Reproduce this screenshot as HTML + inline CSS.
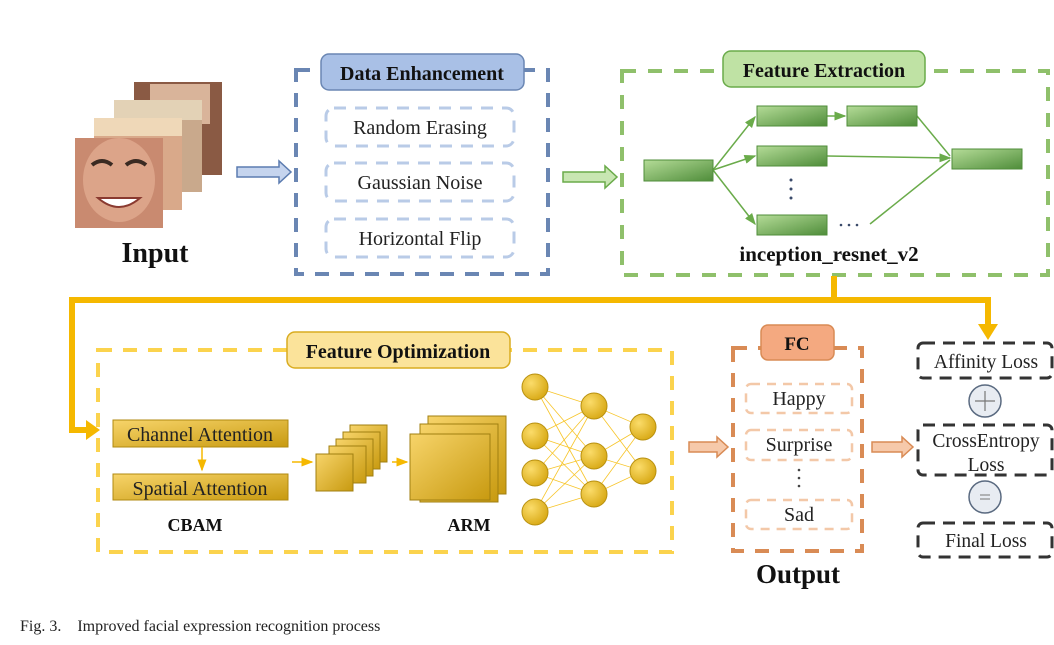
<!DOCTYPE html>
<html><head><meta charset="utf-8"><style>
body{margin:0;background:#fff;}
svg{display:block;font-family:"Liberation Serif",serif;}
</style></head><body>
<svg width="1054" height="645" viewBox="0 0 1054 645" xmlns="http://www.w3.org/2000/svg">
<defs>
<linearGradient id="gg" x1="0" y1="0" x2="1" y2="1"><stop offset="0" stop-color="#b5dc98"/><stop offset="1" stop-color="#4f8d3a"/></linearGradient>
<linearGradient id="yg" x1="0" y1="0" x2="1" y2="1"><stop offset="0" stop-color="#f7d46a"/><stop offset="1" stop-color="#c89a10"/></linearGradient>
<radialGradient id="cg" cx="0.35" cy="0.35" r="0.7"><stop offset="0" stop-color="#fbdc6a"/><stop offset="1" stop-color="#d8a915"/></radialGradient>
<marker id="ga" markerWidth="8" markerHeight="8" refX="7" refY="4" orient="auto"><path d="M0,1 L8,4 L0,7z" fill="#6aab4a"/></marker>
<marker id="ya" markerWidth="8" markerHeight="8" refX="7" refY="4" orient="auto"><path d="M0,1 L8,4 L0,7z" fill="#f5b800"/></marker>
</defs>

<!-- faces -->
<rect x="134" y="82" width="88" height="93" fill="#8a5a44"/><rect x="150" y="84" width="60" height="40" fill="#d9b49a"/>
<rect x="114" y="100" width="88" height="92" fill="#c9a98c"/><rect x="114" y="100" width="88" height="20" fill="#e3d2b6"/>
<rect x="94" y="118" width="88" height="92" fill="#d9a98a"/><rect x="94" y="118" width="88" height="18" fill="#efd8b8"/>
<rect x="75" y="138" width="88" height="90" fill="#c98a70"/>
<ellipse cx="119" cy="180" rx="36" ry="42" fill="#dca489"/>
<path d="M92 165 q10-8 20 0 M126 165 q10-8 20 0" stroke="#3a2a22" stroke-width="4" fill="none"/>
<path d="M98 198 q21 18 42 0 z" fill="#fff" stroke="#8a3a30" stroke-width="2"/>
<text x="155" y="262" font-size="28" font-weight="bold" text-anchor="middle" fill="#111">Input</text>

<!-- blue arrow -->
<path d="M237 167 h42 v-6 l12 11 l-12 11 v-6 h-42z" fill="#c5d4ee" stroke="#5c7cb0" stroke-width="1.5"/>

<!-- data enhancement -->
<rect x="296" y="70" width="252" height="204" fill="none" stroke="#6a86b3" stroke-width="4" stroke-dasharray="14 11"/>
<rect x="321" y="54" width="203" height="36" rx="8" fill="#a9c0e6" stroke="#6a86b3" stroke-width="1.5"/>
<text x="422" y="80" font-size="20" font-weight="bold" text-anchor="middle" fill="#111">Data Enhancement</text>
<g fill="none" stroke="#b9cbe7" stroke-width="3" stroke-dasharray="12 9">
<rect x="326" y="108" width="188" height="38" rx="8"/>
<rect x="326" y="163" width="188" height="38" rx="8"/>
<rect x="326" y="219" width="188" height="38" rx="8"/>
</g>
<g font-size="20" text-anchor="middle" fill="#222">
<text x="420" y="134">Random Erasing</text>
<text x="420" y="189">Gaussian Noise</text>
<text x="420" y="245">Horizontal Flip</text>
</g>

<!-- green arrow -->
<path d="M563 172 h42 v-6 l12 11 l-12 11 v-6 h-42z" fill="#c8e6b2" stroke="#6aab4a" stroke-width="1.5"/>

<!-- feature extraction -->
<rect x="622" y="71" width="426" height="204" fill="none" stroke="#8fc06b" stroke-width="4" stroke-dasharray="14 12"/>
<rect x="723" y="51" width="202" height="36" rx="8" fill="#bfe2a4" stroke="#6aab4a" stroke-width="1.5"/>
<text x="824" y="77" font-size="20" font-weight="bold" text-anchor="middle" fill="#111">Feature Extraction</text>
<g stroke="#6aab4a" stroke-width="1.5" fill="none">
<line x1="713" y1="170" x2="755" y2="117" marker-end="url(#ga)"/>
<line x1="713" y1="170" x2="755" y2="156" marker-end="url(#ga)"/>
<line x1="713" y1="170" x2="755" y2="224" marker-end="url(#ga)"/>
<line x1="827" y1="116" x2="845" y2="116" marker-end="url(#ga)"/>
<line x1="917" y1="116" x2="950" y2="156"/>
<line x1="827" y1="156" x2="950" y2="158" marker-end="url(#ga)"/>
<line x1="870" y1="224" x2="950" y2="160"/>
</g>
<g fill="url(#gg)" stroke="#4f8d3a" stroke-width="1">
<rect x="644" y="160" width="69" height="21"/>
<rect x="757" y="106" width="70" height="20"/>
<rect x="847" y="106" width="70" height="20"/>
<rect x="757" y="146" width="70" height="20"/>
<rect x="757" y="215" width="70" height="20"/>
<rect x="952" y="149" width="70" height="20"/>
</g>
<g fill="#3a4a6a"><circle cx="791" cy="180" r="1.5"/><circle cx="791" cy="189" r="1.5"/><circle cx="791" cy="198" r="1.5"/>
<circle cx="841" cy="225" r="1.3"/><circle cx="849" cy="225" r="1.3"/><circle cx="857" cy="225" r="1.3"/></g>
<text x="829" y="261" font-size="21" font-weight="bold" text-anchor="middle" fill="#111">inception_resnet_v2</text>

<!-- yellow connector -->
<path d="M834 276 V300 H72 V430 H88" fill="none" stroke="#f5b800" stroke-width="6"/>
<path d="M86 420 L100 430 L86 440z" fill="#f5b800"/>
<path d="M834 300 H988 V326" fill="none" stroke="#f5b800" stroke-width="6"/>
<path d="M978 324 L988 340 L998 324z" fill="#f5b800"/>

<!-- feature optimization -->
<rect x="98" y="350" width="574" height="202" fill="none" stroke="#fbd34d" stroke-width="4" stroke-dasharray="14 11"/>
<rect x="287" y="332" width="223" height="36" rx="8" fill="#fbe39a" stroke="#d9ac20" stroke-width="1.5"/>
<text x="398" y="358" font-size="20" font-weight="bold" text-anchor="middle" fill="#111">Feature Optimization</text>
<rect x="113" y="420" width="175" height="27" fill="url(#yg)" stroke="#b08a10"/>
<rect x="113" y="474" width="175" height="26" fill="url(#yg)" stroke="#b08a10"/>
<text x="200" y="441" font-size="20" text-anchor="middle" fill="#222">Channel Attention</text>
<text x="200" y="495" font-size="20" text-anchor="middle" fill="#222">Spatial Attention</text>
<line x1="202" y1="447" x2="202" y2="470" stroke="#f5b800" stroke-width="1.5" marker-end="url(#ya)"/>
<text x="195" y="531" font-size="18" font-weight="bold" text-anchor="middle" fill="#111">CBAM</text>
<line x1="292" y1="462" x2="312" y2="462" stroke="#f5b800" stroke-width="1.5" marker-end="url(#ya)"/>
<g fill="url(#yg)" stroke="#a07f10" stroke-width="1">
<rect x="350" y="425" width="37" height="37"/>
<rect x="343" y="432" width="37" height="37"/>
<rect x="336" y="439" width="37" height="37"/>
<rect x="329" y="446" width="37" height="37"/>
<rect x="316" y="454" width="37" height="37"/>
</g>
<line x1="392" y1="462" x2="407" y2="462" stroke="#f5b800" stroke-width="1.5" marker-end="url(#ya)"/>
<g fill="url(#yg)" stroke="#a07f10" stroke-width="1">
<rect x="428" y="416" width="78" height="78"/>
<rect x="420" y="424" width="78" height="78"/>
<rect x="410" y="434" width="80" height="66"/>
</g>
<text x="469" y="531" font-size="18" font-weight="bold" text-anchor="middle" fill="#111">ARM</text>
<g stroke="#f7c52a" stroke-width="0.8">
<path d="M535 387 L594 406 M535 387 L594 456 M535 387 L594 494 M535 436 L594 406 M535 436 L594 456 M535 436 L594 494 M535 473 L594 406 M535 473 L594 456 M535 473 L594 494 M535 512 L594 406 M535 512 L594 456 M535 512 L594 494 M594 406 L643 427 M594 406 L643 471 M594 456 L643 427 M594 456 L643 471 M594 494 L643 427 M594 494 L643 471"/>
</g>
<g fill="url(#cg)" stroke="#b8900f" stroke-width="1">
<circle cx="535" cy="387" r="13"/><circle cx="535" cy="436" r="13"/><circle cx="535" cy="473" r="13"/><circle cx="535" cy="512" r="13"/>
<circle cx="594" cy="406" r="13"/><circle cx="594" cy="456" r="13"/><circle cx="594" cy="494" r="13"/>
<circle cx="643" cy="427" r="13"/><circle cx="643" cy="471" r="13"/>
</g>

<!-- orange arrows -->
<path d="M689 442 h28 v-5 l11 10 l-11 10 v-5 h-28z" fill="#f6c9aa" stroke="#d98b55" stroke-width="1.5"/>
<path d="M872 442 h30 v-5 l11 10 l-11 10 v-5 h-30z" fill="#f6c9aa" stroke="#d98b55" stroke-width="1.5"/>

<!-- output -->
<rect x="733" y="348" width="129" height="203" fill="none" stroke="#d98b55" stroke-width="4" stroke-dasharray="14 11"/>
<rect x="761" y="325" width="73" height="35" rx="7" fill="#f4a980" stroke="#d98b55" stroke-width="1.5"/>
<text x="797" y="350" font-size="19" font-weight="bold" text-anchor="middle" fill="#111">FC</text>
<g fill="none" stroke="#f3c8a8" stroke-width="2.5" stroke-dasharray="9 7">
<rect x="746" y="384" width="106" height="29" rx="5"/>
<rect x="746" y="430" width="106" height="30" rx="5"/>
<rect x="746" y="500" width="106" height="29" rx="5"/>
</g>
<g font-size="20" text-anchor="middle" fill="#222">
<text x="799" y="405">Happy</text><text x="799" y="451">Surprise</text><text x="799" y="521">Sad</text>
</g>
<g fill="#444"><circle cx="799" cy="470" r="1.3"/><circle cx="799" cy="478" r="1.3"/><circle cx="799" cy="486" r="1.3"/></g>
<text x="798" y="583" font-size="27" font-weight="bold" text-anchor="middle" fill="#111">Output</text>

<!-- losses -->
<g fill="none" stroke="#333" stroke-width="3" stroke-dasharray="12 8">
<rect x="918" y="343" width="134" height="35" rx="5"/>
<rect x="918" y="425" width="134" height="50" rx="5"/>
<rect x="918" y="523" width="134" height="34" rx="5"/>
</g>
<g font-size="19.5" text-anchor="middle" fill="#222">
<text x="986" y="368">Affinity Loss</text>
<text x="986" y="447">CrossEntropy</text>
<text x="986" y="471">Loss</text>
<text x="986" y="547">Final Loss</text>
</g>
<circle cx="985" cy="401" r="16" fill="#e8ecf2" stroke="#5a6a80" stroke-width="1.5"/>
<path d="M975 401 h20 M985 391 v20" stroke="#777" stroke-width="1.2"/>
<circle cx="985" cy="497" r="16" fill="#e8ecf2" stroke="#5a6a80" stroke-width="1.5"/>
<path d="M980 495 h10 M980 499 h10" stroke="#777" stroke-width="1"/>

<text x="20" y="631" font-size="16" fill="#222" xml:space="preserve">Fig. 3.    Improved facial expression recognition process</text>
</svg>
</body></html>
